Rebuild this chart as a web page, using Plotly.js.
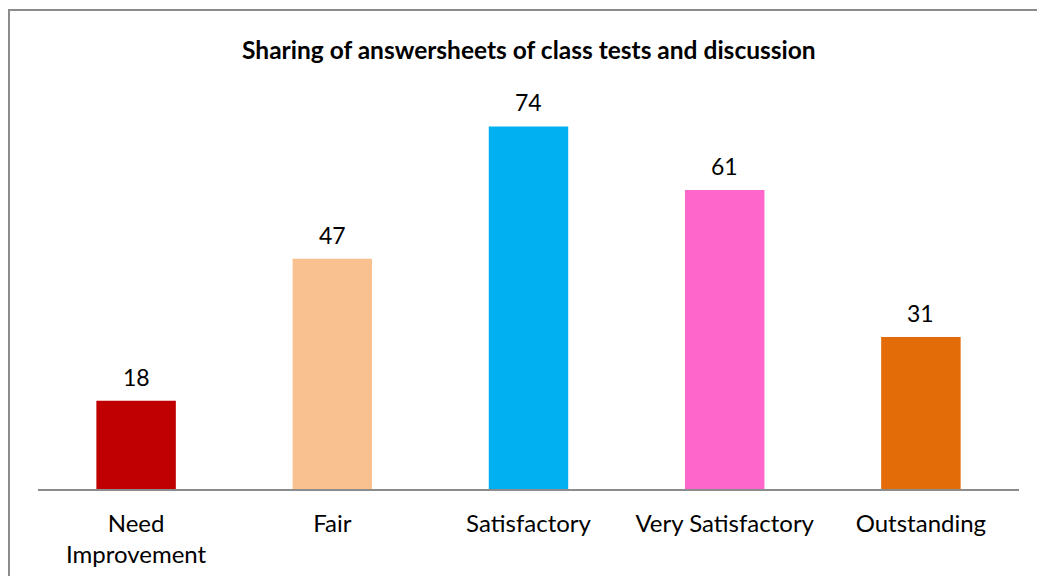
<!DOCTYPE html>
<html>
<head>
<meta charset="utf-8">
<script src="https://cdn.plot.ly/plotly-3.0.1.min.js"></script>
<style>
html,body{margin:0;padding:0;background:#fff;overflow:hidden;}
#chart{position:absolute;left:0;top:0;width:1037px;height:576px;}
#frame{position:absolute;left:8px;top:9px;width:1100px;height:700px;border:2px solid #8c8c8c;box-sizing:border-box;pointer-events:none;}
</style>
</head>
<body>
<div id="chart"></div>
<div id="frame"></div>
<script>
const categories = ["Need<br>Improvement", "Fair", "Satisfactory", "Very Satisfactory", "Outstanding"];
const values = [18, 47, 74, 61, 31];
const barColors = ["#c00000", "#f8c18f", "#00b0f0", "#ff66cc", "#e36c09"];

const FONT = "Lato, 'Open Sans', sans-serif";

const trace = {
  type: "bar",
  x: categories,
  y: values,
  marker: {color: barColors},
  width: 0.405,
  hoverinfo: "none"
};

const labels = categories.map((c, i) => ({
  x: c, y: values[i], xref: "x", yref: "y",
  text: String(values[i]), showarrow: false,
  xanchor: "center", yanchor: "bottom", yshift: 8,
  font: {family: FONT, size: 23, color: "#000"}
}));

const layout = {
  width: 1037,
  height: 576,
  margin: {l: 38, r: 18, t: 97, b: 87},
  paper_bgcolor: "rgba(0,0,0,0)",
  plot_bgcolor: "rgba(0,0,0,0)",
  title: {
    text: "<b>Sharing of answersheets of class tests and discussion</b>",
    font: {family: FONT, size: 24.5, color: "#000"},
    x: 0.51, xanchor: "center",
    y: 0.913, yanchor: "middle"
  },
  xaxis: {
    showline: true, linecolor: "#8c8c8c", linewidth: 2,
    ticks: "", ticklabelstandoff: 12,
    tickfont: {family: FONT, size: 24, color: "#000"},
    showgrid: false, zeroline: false
  },
  yaxis: {
    range: [0, 80], visible: false, showgrid: false, zeroline: false
  },
  annotations: labels,
  showlegend: false
};

Plotly.newPlot("chart", [trace], layout, {displayModeBar: false, staticPlot: true});
</script>
</body>
</html>
